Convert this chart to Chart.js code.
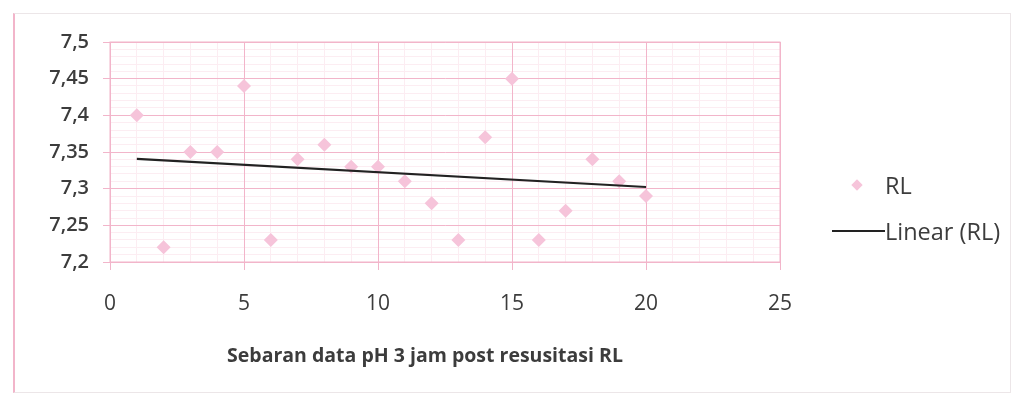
<!DOCTYPE html>
<html lang="id">
<head>
  <meta charset="UTF-8">
  <title>Sebaran data pH 3 jam post resusitasi RL</title>
  <script src="https://cdn.jsdelivr.net/npm/chart.js"></script>
  <style>
    body { margin: 0; background: #fff; font-family: "Open Sans", Lato, sans-serif; }
    #wrap { position: relative; width: 1015px; height: 396px; overflow: hidden; }
    #frame {
      position: absolute; left: 13px; top: 13px; width: 995px; height: 378px;
      border: 1px solid #ece6e8; border-left: 2px solid #f2b5ca;
    }
    #phChart { position: absolute; left: 0; top: 0; }
    #legend { position: absolute; left: 830px; top: 162px; color: #3c3c3c; font-size: 23.5px; }
    .item { display: flex; align-items: center; height: 46px; }
    .sym { width: 55px; height: 46px; position: relative; }
    .dia {
      position: absolute; left: 23px; top: 19px; width: 8px; height: 8px;
      background: #f6c4da; transform: rotate(45deg);
    }
    .ln { position: absolute; left: 2px; top: 22px; width: 53px; height: 2px; background: #222; }
  </style>
</head>
<body>
  <div id="wrap">
    <div id="frame"></div>
    <canvas id="phChart" width="1015" height="396"></canvas>
    <div id="legend"></div>
  </div>

  <script>
    // pasien ke-1 s/d ke-20, pH 3 jam setelah resusitasi RL
    const pasien = [1, 2, 3, 4, 5, 6, 7, 8, 9, 10, 11, 12, 13, 14, 15, 16, 17, 18, 19, 20];
    const phRL = [7.40, 7.22, 7.35, 7.35, 7.44, 7.23, 7.34, 7.36, 7.33, 7.33,
                  7.31, 7.28, 7.23, 7.37, 7.45, 7.23, 7.27, 7.34, 7.31, 7.29];
    const xTicks = [0, 5, 10, 15, 20, 25];
    const yTicks = [7.2, 7.25, 7.3, 7.35, 7.4, 7.45, 7.5];

    // garis tren linear (kuadrat terkecil) seperti trendline Excel
    function linearFit(xs, ys) {
      const n = xs.length;
      const mx = xs.reduce((a, b) => a + b, 0) / n;
      const my = ys.reduce((a, b) => a + b, 0) / n;
      let sxy = 0, sxx = 0;
      xs.forEach((x, i) => { sxy += (x - mx) * (ys[i] - my); sxx += (x - mx) * (x - mx); });
      const b = sxy / sxx;
      return x => my + b * (x - mx);
    }
    const fit = linearFit(pasien, phRL);
    const xFirst = pasien[0], xLast = pasien[pasien.length - 1];

    const pink = '#f2b5ca';
    const pinkSoft = '#fcedf2';
    const textCol = '#3c3c3c';
    const fontFam = '"Open Sans", Lato, sans-serif';
    const comma = v => String(+v.toFixed(2)).replace('.', ',');

    // judul sumbu x di bawah (plugin title), tingginya dikurangi dari area sumbu x
    const titleFont = { family: fontFam, size: 19.5, weight: 'bold', lineHeight: 1.2 };
    const titlePadBottom = 28;
    const titleBox = titleFont.size * titleFont.lineHeight + titlePadBottom;

    const chart = new Chart(document.getElementById('phChart'), {
      type: 'scatter',
      data: {
        datasets: [
          {
            label: 'RL',
            data: pasien.map((x, i) => ({ x, y: phRL[i] })),
            pointStyle: 'rectRot',
            pointRadius: 7,
            backgroundColor: '#f6c4da',
            borderWidth: 0,
            order: 2
          },
          {
            label: 'Linear (RL)',
            type: 'line',
            data: [{ x: xFirst, y: fit(xFirst) }, { x: xLast, y: fit(xLast) }],
            borderColor: '#222',
            borderWidth: 2.2,
            pointRadius: 0,
            order: 1
          }
        ]
      },
      options: {
        responsive: false,
        animation: false,
        layout: { padding: { left: 0, top: 42, right: 165, bottom: 0 } },
        plugins: {
          legend: { display: false },
          tooltip: { enabled: false },
          title: {
            display: true,
            position: 'bottom',
            text: 'Sebaran data pH 3 jam post resusitasi RL',
            color: textCol,
            font: titleFont,
            padding: { top: 0, bottom: titlePadBottom }
          }
        },
        scales: {
          xMinor: {
            type: 'linear', position: 'bottom', min: 0, max: 25,
            ticks: { display: false, stepSize: 1 },
            grid: { color: pinkSoft, drawTicks: false },
            border: { display: false },
            afterFit: s => { s.height = 0; }
          },
          // grid minor horizontal; sumbunya di kanan tanpa label, memberi ruang legenda
          yMinor: {
            type: 'linear', position: 'right', min: 7.2, max: 7.5,
            ticks: { display: false, stepSize: 0.01 },
            grid: { color: pinkSoft, drawTicks: false },
            border: { display: false },
            afterFit: s => { s.width = 70; }
          },
          x: {
            type: 'linear', position: 'bottom', min: 0, max: 25,
            afterBuildTicks: s => { s.ticks = xTicks.map(value => ({ value })); },
            ticks: { color: textCol, font: { family: fontFam, size: 21 }, padding: 21 },
            grid: { color: pink, tickLength: 8, tickColor: pink },
            border: { color: pink },
            afterFit: s => { s.height = 134 - titleBox; }
          },
          y: {
            type: 'linear', position: 'left', min: 7.2, max: 7.5,
            afterBuildTicks: s => { s.ticks = yTicks.map(value => ({ value })); },
            ticks: {
              color: textCol, padding: 14,
              font: { family: fontFam, size: 20, weight: '600' },
              callback: v => comma(v)
            },
            grid: { color: pink, tickLength: 7, tickColor: pink },
            border: { color: pink },
            afterFit: s => { s.width = 110; }
          }
        }
      },
      plugins: [{
        id: 'plotBorder',
        afterDatasetsDraw(c) {
          const { ctx, chartArea: a } = c;
          ctx.save();
          ctx.strokeStyle = pink;
          ctx.lineWidth = 1;
          ctx.strokeRect(a.left, a.top, a.right - a.left, a.bottom - a.top);
          ctx.restore();
        }
      }]
    });

    // legenda di kanan plot
    const legend = document.getElementById('legend');
    chart.data.datasets.forEach(ds => {
      const item = document.createElement('div');
      item.className = 'item';
      const sym = document.createElement('div');
      sym.className = 'sym';
      const mark = document.createElement('div');
      mark.className = ds.type === 'line' ? 'ln' : 'dia';
      sym.appendChild(mark);
      const txt = document.createElement('span');
      txt.textContent = ds.label;
      item.appendChild(sym);
      item.appendChild(txt);
      legend.appendChild(item);
    });
  </script>
</body>
</html>
